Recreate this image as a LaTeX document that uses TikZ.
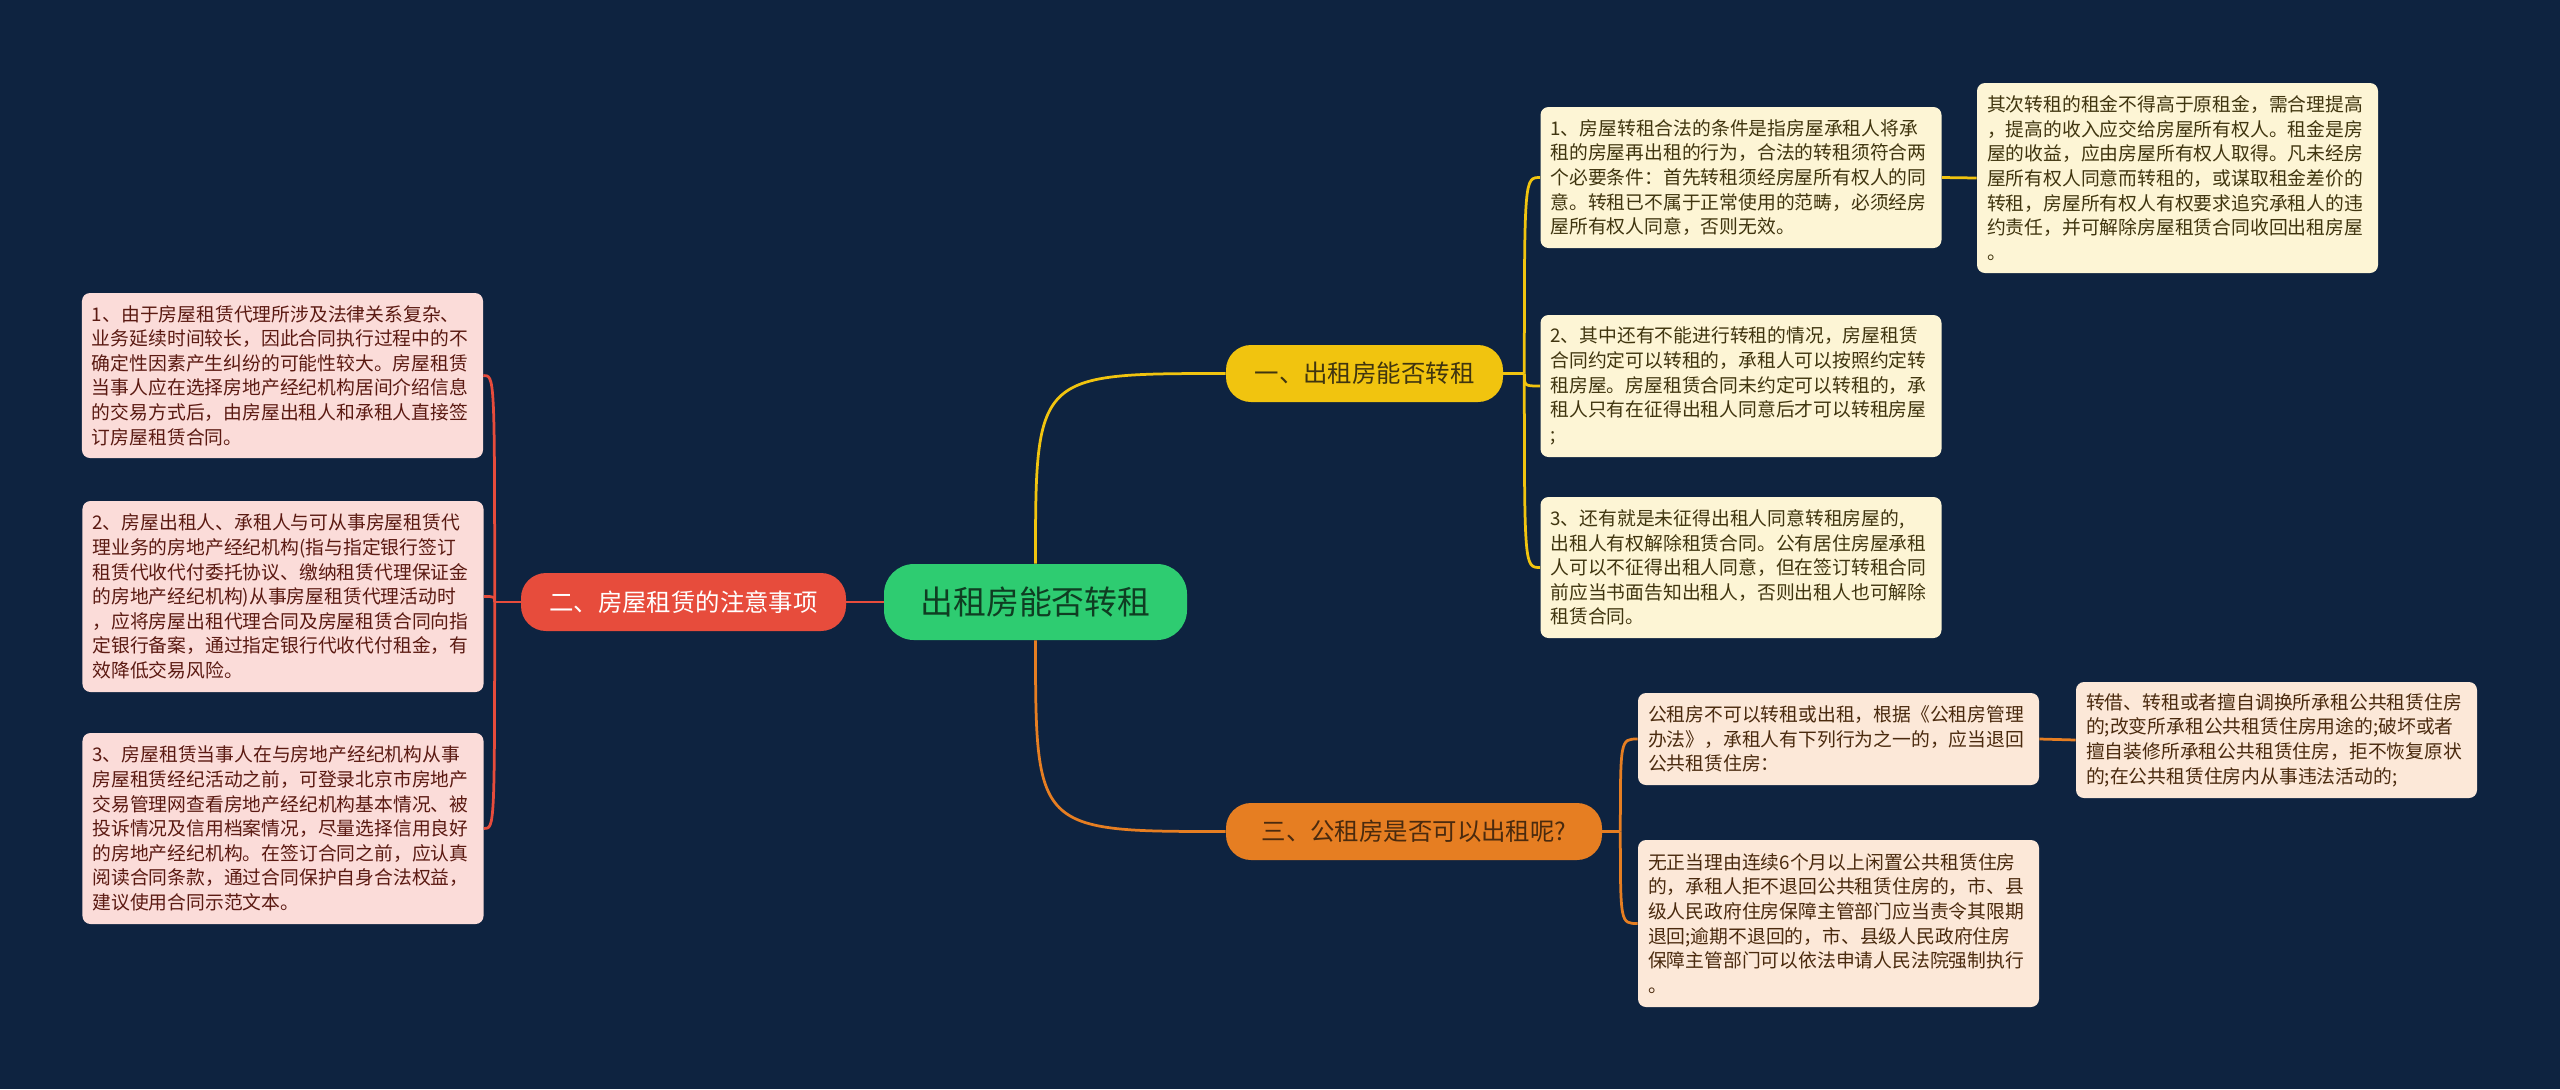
\documentclass[tikz,border=0pt]{standalone}
\usepackage{fontspec}
\setmainfont{Noto Sans CJK SC}
\usetikzlibrary{positioning}
\definecolor{mapNavy}{HTML}{0E2340}
\definecolor{mapGreen}{HTML}{2ECC71}
\definecolor{mapYellow}{HTML}{F1C40F}
\definecolor{mapRed}{HTML}{E74C3C}
\definecolor{mapOrange}{HTML}{E67E22}
\definecolor{leafPink}{HTML}{FBDCD9}
\definecolor{leafCream}{HTML}{FDF5D5}
\definecolor{leafPeach}{HTML}{FCE8D8}
\definecolor{inkGreen}{HTML}{0F3D22}
\definecolor{inkRed}{HTML}{5B1A12}
\definecolor{inkOlive}{HTML}{40350F}
\definecolor{inkBrown}{HTML}{4A2A0E}
\tikzset{
  mapRoot/.style={
    rounded corners=6mm,
    fill=mapGreen,
    text=inkGreen,
    font=\fontsize{18.7pt}{22pt}\selectfont,
    minimum width=60.6mm,
    minimum height=15.2mm,
    inner sep=0pt
  },
  mapBranch/.style={
    rounded corners=5mm,
    minimum height=11.4mm,
    inner sep=0pt,
    font=\fontsize{13.9pt}{16pt}\selectfont
  },
  mapLeaf/.style={
    rounded corners=1.6mm,
    text width=76.2mm,
    align=left,
    inner xsep=2mm,
    inner ysep=0pt,
    font=\fontsize{10.7pt}{14pt}\selectfont
  },
  pinkLeaf/.style={mapLeaf, fill=leafPink, text=inkRed},
  creamLeaf/.style={mapLeaf, fill=leafCream, text=inkOlive},
  peachLeaf/.style={mapLeaf, fill=leafPeach, text=inkBrown},
  yellowEdge/.style={draw=mapYellow, line width=0.55mm},
  redEdge/.style={draw=mapRed, line width=0.55mm},
  orangeEdge/.style={draw=mapOrange, line width=0.55mm}
}
\begin{document}
\begin{tikzpicture}[x=0.2mm,y=-0.2mm]
  \fill[mapNavy] (0,0) rectangle (2560,1089);

  % centre and the three branches
  \node[mapRoot] (root) at (1035.5,602) {出租房能否转租};
  \node[mapBranch, fill=mapYellow, text=inkOlive, minimum width=55.4mm]
    (sublet) at (1364.5,373.5) {一、出租房能否转租};
  \node[mapBranch, fill=mapRed, text=white, minimum width=65mm, minimum height=11.6mm]
    (notes) at (683.5,602) {二、房屋租赁的注意事项};
  \node[mapBranch, fill=mapOrange, text=inkBrown, minimum width=75.2mm]
    (publicRent) at (1414,831.5) {三、公租房是否可以出租呢?};

  % left side
  \node[pinkLeaf, minimum height=33mm] (noteA) at (282.5,375.5)
    {1、由于房屋租赁代理所涉及法律关系复杂、\\
    业务延续时间较长，因此合同执行过程中的不\\
    确定性因素产生纠纷的可能性较大。房屋租赁\\
    当事人应在选择房地产经纪机构居间介绍信息\\
    的交易方式后，由房屋出租人和承租人直接签\\
    订房屋租赁合同。};
  \node[pinkLeaf, minimum height=38.2mm] (noteB) at (283,596.5)
    {2、房屋出租人、承租人与可从事房屋租赁代\\
    理业务的房地产经纪机构(指与指定银行签订\\
    租赁代收代付委托协议、缴纳租赁代理保证金\\
    的房地产经纪机构)从事房屋租赁代理活动时\\
    ，应将房屋出租代理合同及房屋租赁合同向指\\
    定银行备案，通过指定银行代收代付租金，有\\
    效降低交易风险。};
  \node[pinkLeaf, minimum height=38.2mm] (noteC) at (283,828.5)
    {3、房屋租赁当事人在与房地产经纪机构从事\\
    房屋租赁经纪活动之前，可登录北京市房地产\\
    交易管理网查看房地产经纪机构基本情况、被\\
    投诉情况及信用档案情况，尽量选择信用良好\\
    的房地产经纪机构。在签订合同之前，应认真\\
    阅读合同条款，通过合同保护自身合法权益，\\
    建议使用合同示范文本。};

  % right side, upper branch
  \node[creamLeaf, minimum height=28.2mm] (subA) at (1741,177.5)
    {1、房屋转租合法的条件是指房屋承租人将承\\
    租的房屋再出租的行为，合法的转租须符合两\\
    个必要条件：首先转租须经房屋所有权人的同\\
    意。转租已不属于正常使用的范畴，必须经房\\
    屋所有权人同意，否则无效。};
  \node[creamLeaf, minimum height=28.4mm] (subB) at (1741,386)
    {2、其中还有不能进行转租的情况，房屋租赁\\
    合同约定可以转租的，承租人可以按照约定转\\
    租房屋。房屋租赁合同未约定可以转租的，承\\
    租人只有在征得出租人同意后才可以转租房屋\\
    ;};
  \node[creamLeaf, minimum height=28.2mm] (subC) at (1741,567.5)
    {3、还有就是未征得出租人同意转租房屋的,\\
    出租人有权解除租赁合同。公有居住房屋承租\\
    人可以不征得出租人同意，但在签订转租合同\\
    前应当书面告知出租人，否则出租人也可解除\\
    租赁合同。};
  \node[creamLeaf, minimum height=38mm] (subD) at (2177.5,178)
    {其次转租的租金不得高于原租金，需合理提高\\
    ，提高的收入应交给房屋所有权人。租金是房\\
    屋的收益，应由房屋所有权人取得。凡未经房\\
    屋所有权人同意而转租的，或谋取租金差价的\\
    转租，房屋所有权人有权要求追究承租人的违\\
    约责任，并可解除房屋租赁合同收回出租房屋\\
    。};

  % right side, lower branch
  \node[peachLeaf, minimum height=18.4mm] (pubA) at (1838.5,739)
    {公租房不可以转租或出租，根据《公租房管理\\
    办法》，承租人有下列行为之一的，应当退回\\
    公共租赁住房：};
  \node[peachLeaf, minimum height=33.4mm] (pubB) at (1838.5,923.5)
    {无正当理由连续6个月以上闲置公共租赁住房\\
    的，承租人拒不退回公共租赁住房的，市、县\\
    级人民政府住房保障主管部门应当责令其限期\\
    退回;逾期不退回的，市、县级人民政府住房\\
    保障主管部门可以依法申请人民法院强制执行\\
    。};
  \node[peachLeaf, minimum height=23.2mm] (pubC) at (2276.5,740)
    {转借、转租或者擅自调换所承租公共租赁住房\\
    的;改变所承租公共租赁住房用途的;破坏或者\\
    擅自装修所承租公共租赁住房，拒不恢复原状\\
    的;在公共租赁住房内从事违法活动的;};

  % connectors
  \draw[yellowEdge] (root.north) .. controls (root.north |- sublet.west) .. (sublet.west);
  \draw[redEdge] (root.west) -- (notes.east);
  \draw[orangeEdge] (root.south) .. controls (root.south |- publicRent.west) .. (publicRent.west);

  \draw[yellowEdge] (sublet.east) -- ++(21,0) coordinate (subletFork);
  \foreach \leaf in {subA,subB,subC}
    \draw[yellowEdge] (subletFork) .. controls (subletFork |- \leaf.west) .. (\leaf.west);
  \draw[yellowEdge] (subA.east) -- (subD.west);

  \draw[redEdge] (notes.west) -- ++(-26,0) coordinate (notesFork);
  \foreach \leaf in {noteA,noteB,noteC}
    \draw[redEdge] (notesFork) .. controls (notesFork |- \leaf.east) .. (\leaf.east);

  \draw[orangeEdge] (publicRent.east) -- ++(18,0) coordinate (publicFork);
  \foreach \leaf in {pubA,pubB}
    \draw[orangeEdge] (publicFork) .. controls (publicFork |- \leaf.west) .. (\leaf.west);
  \draw[orangeEdge] (pubA.east) -- (pubC.west);
\end{tikzpicture}
\end{document}
